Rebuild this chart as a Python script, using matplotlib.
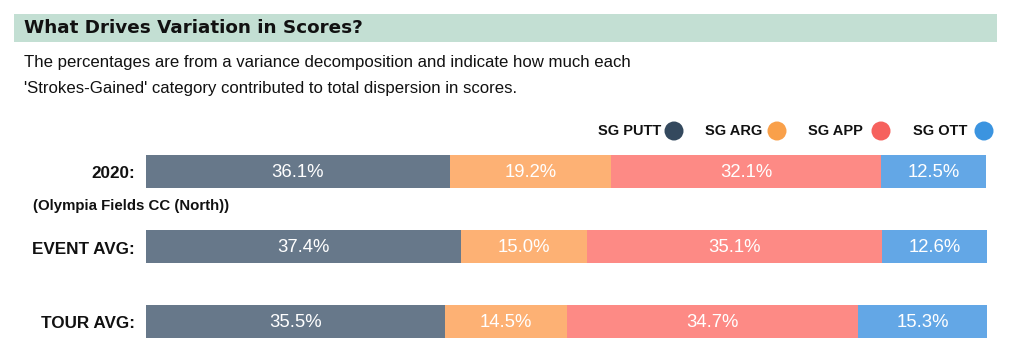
import matplotlib
matplotlib.use("Agg")
import matplotlib.pyplot as plt
from matplotlib.patches import Rectangle, Ellipse

rows = ["2020:", "EVENT AVG:", "TOUR AVG:"]
course_note = "(Olympia Fields CC (North))"
categories = ["SG PUTT", "SG ARG", "SG APP", "SG OTT"]
sg_putt = [36.1, 37.4, 35.5]
sg_arg = [19.2, 15.0, 14.5]
sg_app = [32.1, 35.1, 34.7]
sg_ott = [12.5, 12.6, 15.3]
series = [sg_putt, sg_arg, sg_app, sg_ott]

bar_colors = ["#67788a", "#fdb174", "#fd8a85", "#63a7e6"]
legend_colors = ["#34495e", "#f9a04a", "#f6615d", "#3b94e0"]

W, H = 1013, 362
fig = plt.figure(figsize=(W / 100, H / 100), dpi=100)
fig.patch.set_facecolor("white")

def fx(px):
    return px / W

def fy(py):
    return 1 - py / H

# Title banner
fig.patches.append(Rectangle((fx(14), fy(42)), fx(997) - fx(14), (42 - 14) / H,
                             transform=fig.transFigure, facecolor="#c3dfd3",
                             edgecolor="none", zorder=0))
fig.text(fx(24), fy(28), "What Drives Variation in Scores?", fontsize=13.2,
         fontweight="bold", family="DejaVu Sans", color="#111111", va="center", ha="left")
fig.text(fx(24), fy(62), "The percentages are from a variance decomposition and indicate how much each",
         fontsize=12.1, family="Liberation Sans", color="#111111", va="center", ha="left")
fig.text(fx(24), fy(89), "'Strokes-Gained' category contributed to total dispersion in scores.",
         fontsize=12.1, family="Liberation Sans", color="#111111", va="center", ha="left")

# Legend
leg_text_right = [661, 762, 863, 967]
leg_circle_x = [674, 777, 881, 984]
for name, tx, cx, col in zip(categories, leg_text_right, leg_circle_x, legend_colors):
    fig.text(fx(tx), fy(131), name, fontsize=10.5, fontweight="bold", family="Liberation Sans",
             color="#111111", ha="right", va="center")
    fig.patches.append(Ellipse((fx(cx), fy(131)), 19 / W, 19 / H,
                               transform=fig.transFigure, facecolor=col, edgecolor="none"))

# Bars axis
ax = fig.add_axes([fx(146), fy(359), fx(987) - fx(146), (359 - 134) / H])
ax.set_xlim(0, 100)
ax.set_ylim(2.5, -0.5)
ax.axis("off")

ypos = list(range(len(rows)))
left = [0.0] * len(rows)
for vals, col in zip(series, bar_colors):
    ax.barh(ypos, vals, left=left, height=0.44, color=col, edgecolor="none")
    for i, v in enumerate(vals):
        ax.text(left[i] + v / 2, ypos[i] + 0.01, f"{v:.1f}%", ha="center", va="center",
                color="white", fontsize=13.3, family="Liberation Sans")
    left = [l + v for l, v in zip(left, vals)]

# Row labels
label_y = [174, 249, 324]
for lab, py in zip(rows, label_y):
    fig.text(fx(135), fy(py), lab, fontsize=12.3, fontweight="bold", family="Liberation Sans",
             color="#111111", ha="right", va="center")
fig.text(fx(33), fy(206), course_note, fontsize=10.8, fontweight="bold", family="Liberation Sans",
         color="#111111", ha="left", va="center")

fig.savefig("out.png", dpi=100, facecolor="white")
